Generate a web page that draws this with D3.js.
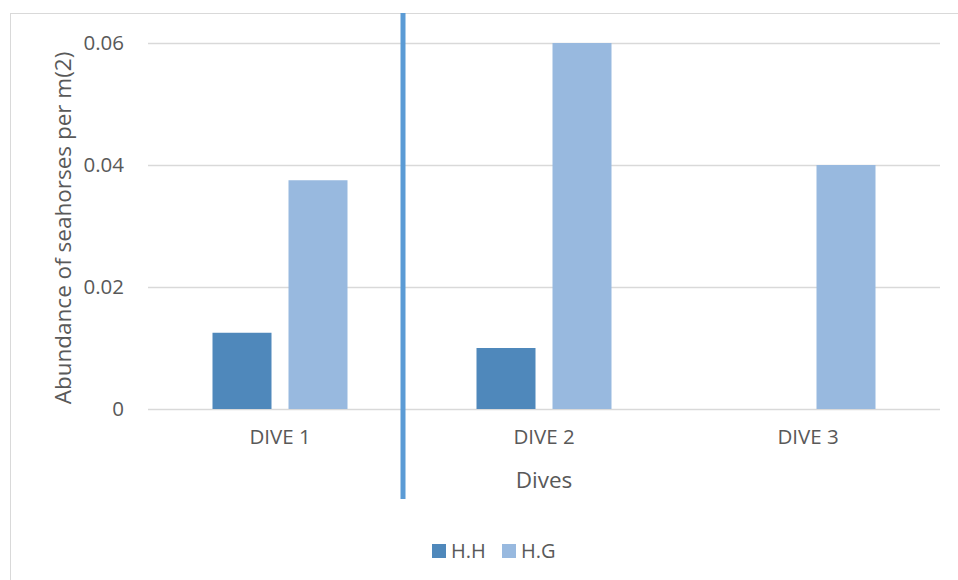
<!DOCTYPE html>
<html>
<head>
<meta charset="utf-8">
<script src="https://cdn.jsdelivr.net/npm/d3@7"></script>
<style>
  html, body { margin: 0; padding: 0; background: #fff; }
  svg { display: block; }
  text { font-family: "Open Sans", "Liberation Sans", sans-serif; fill: #595959; }
</style>
</head>
<body>
<svg id="chart" width="958" height="580"></svg>
<script>
// Seahorse abundance per dive, two species
const categories = ["DIVE 1", "DIVE 2", "DIVE 3"];
const seriesNames = ["H.H", "H.G"];
const hhValues = [0.0125, 0.01, 0];
const hgValues = [0.0375, 0.06, 0.04];
const yTicks = [0, 0.02, 0.04, 0.06];
const yTickLabels = ["0", "0.02", "0.04", "0.06"];
const colors = ["#4F88BB", "#98B9DF"];

const svg = d3.select("#chart");
const W = 958, H = 580;
const m = { left: 148, right: 18, top: 43, bottom: 171 };
const font = "'Open Sans', 'Liberation Sans', sans-serif";

// outer chart frame
svg.append("rect")
  .attr("x", 10.5).attr("y", 13.5)
  .attr("width", W + 20).attr("height", H + 20)
  .attr("fill", "none").attr("stroke", "#D9D9D9").attr("stroke-width", 1);

const x = d3.scaleBand().domain(categories).range([m.left, W - m.right]);
const y = d3.scaleLinear().domain([0, 0.06]).range([H - m.bottom, m.top]);

// gridlines
svg.append("g").selectAll("line").data(yTicks).join("line")
  .attr("x1", m.left).attr("x2", W - m.right)
  .attr("y1", d => Math.round(y(d)) + 0.5).attr("y2", d => Math.round(y(d)) + 0.5)
  .attr("stroke", "#D9D9D9").attr("stroke-width", 1.3);

// y axis labels
const yAxis = d3.axisLeft(y).tickValues(yTicks)
  .tickFormat((d, i) => yTickLabels[i]).tickSize(0).tickPadding(24);
const ya = svg.append("g").attr("transform", `translate(${m.left},0)`).call(yAxis);
ya.select(".domain").remove();
ya.selectAll("text").style("font-size", "20.5px").attr("fill", "#595959")
  .style("font-family", font);

// x axis labels
const xAxis = d3.axisBottom(x).tickSize(0).tickPadding(20);
const xa = svg.append("g").attr("transform", `translate(0,${y(0)})`).call(xAxis);
xa.select(".domain").remove();
xa.selectAll("text").style("font-size", "20.5px").attr("fill", "#595959")
  .style("font-family", font);

// grouped bars
const barW = 59, gap = 17;
const rows = categories.map((c, i) => ({ c, vals: [hhValues[i], hgValues[i]] }));
const groups = svg.append("g").selectAll("g").data(rows).join("g");
groups.selectAll("rect").data(d => d.vals.map((v, j) => ({ c: d.c, v, j }))).join("rect")
  .attr("x", d => x(d.c) + x.bandwidth() / 2 + (d.j === 0 ? -(gap / 2 + barW) : gap / 2))
  .attr("width", barW)
  .attr("y", d => y(d.v))
  .attr("height", d => y(0) - y(d.v))
  .attr("fill", d => colors[d.j]);

// vertical separator line
svg.append("line")
  .attr("x1", 403).attr("x2", 403).attr("y1", 13).attr("y2", 499)
  .attr("stroke", "#5B9BD5").attr("stroke-width", 5);

// axis titles
svg.append("text")
  .attr("x", 544).attr("y", 488)
  .attr("text-anchor", "middle").style("font-size", "22.5px").text("Dives");

svg.append("text")
  .attr("transform", `translate(71,${(m.top + y(0)) / 2 + 2}) rotate(-90)`)
  .attr("text-anchor", "middle").style("font-size", "22.5px")
  .text("Abundance of seahorses per m(2)");

// legend
const legend = svg.append("g");
const legendX = [432, 502];
seriesNames.forEach((s, i) => {
  legend.append("rect").attr("x", legendX[i]).attr("y", 544)
    .attr("width", 14).attr("height", 14).attr("fill", colors[i]);
  legend.append("text").attr("x", legendX[i] + 19).attr("y", 558)
    .style("font-size", "20px").text(s);
});
</script>
</body>
</html>
